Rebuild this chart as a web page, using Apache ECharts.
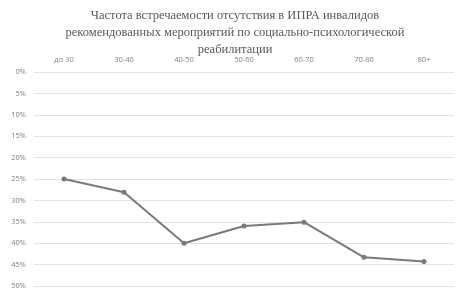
<!DOCTYPE html>
<html><head><meta charset="utf-8">
<script src="https://cdn.jsdelivr.net/npm/echarts@6/dist/echarts.min.js"></script>
<style>html,body{margin:0;padding:0;background:#fff}#c{width:465px;height:294px}</style>
</head><body><div id="c"></div>
<script>
const titleText = 'Частота встречаемости отсутствия в ИПРА инвалидов\nрекомендованных мероприятий по социально-психологической\nреабилитации';
const categories = ['до 30','30-40','40-50','50-60','60-70','70-80','80+'];
const values = [25.0, 28.1, 40.0, 36.0, 35.1, 43.3, 44.3];
const yMin = 0, yMax = 50, yStep = 5;

const chart = echarts.init(document.getElementById('c'), null, {renderer:'canvas'});
chart.setOption({
  animation: false,
  backgroundColor: '#fff',
  title: {
    text: titleText, left: 235, top: 7, textAlign: 'center', padding: 0,
    textStyle: {fontFamily: 'Liberation Serif', fontWeight: 'normal', fontSize: 12.5, color: '#595959', lineHeight: 17}
  },
  grid: {left: 34, right: 11, top: 72, bottom: 8},
  xAxis: {
    type: 'category', data: categories, position: 'top', boundaryGap: true,
    axisLine: {show: false}, axisTick: {show: false},
    axisLabel: {fontFamily: 'Open Sans', fontSize: 7.5, color: '#7f7f7f', margin: 8}
  },
  yAxis: {
    type: 'value', inverse: true, min: yMin, max: yMax, interval: yStep,
    axisLine: {show: false}, axisTick: {show: false},
    axisLabel: {formatter: '{value}%', fontFamily: 'Open Sans', fontSize: 7.5, color: '#7f7f7f', margin: 8},
    splitLine: {lineStyle: {color: '#e3e3e3', width: 1}}
  },
  series: [{
    type: 'line', data: values, symbol: 'circle', symbolSize: 5,
    lineStyle: {color: '#7a7a7a', width: 2}, itemStyle: {color: '#7a7a7a'}
  }]
});
</script></body></html>
